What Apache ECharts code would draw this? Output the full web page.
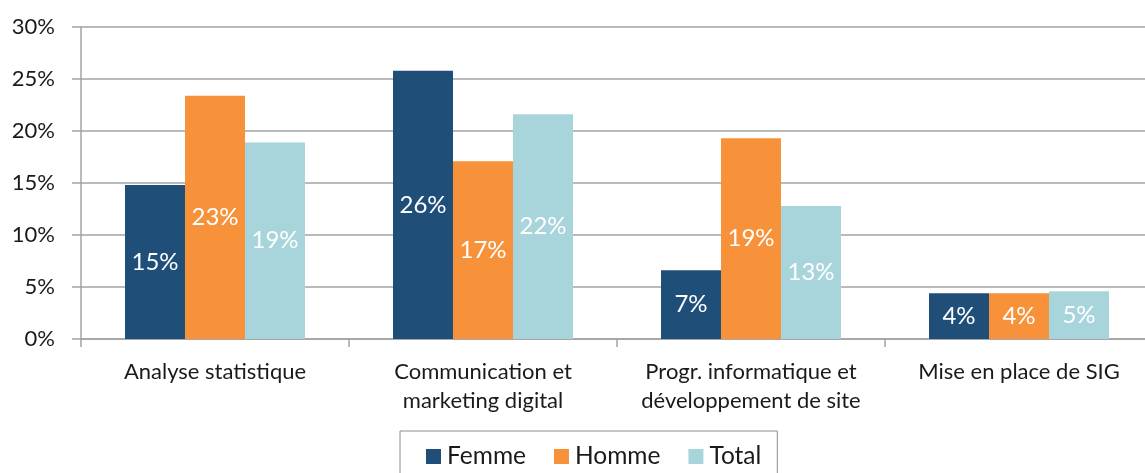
<!DOCTYPE html>
<html>
<head>
<meta charset="utf-8">
<script src="https://cdn.jsdelivr.net/npm/echarts@6/dist/echarts.min.js"></script>
<style>
  html, body { margin: 0; padding: 0; background: #fff; overflow: hidden; }
  /* plot runs slightly past the right edge of the window, like the source */
  #chart { width: 1153px; height: 473px; }
</style>
</head>
<body>
<div id="chart"></div>
<script>
// categories and values (percent)
var categories = [
    'Analyse statistique',
    'Communication et\nmarketing digital',
    'Progr. informatique et\ndéveloppement de site',
    'Mise en place de SIG'
];
var femme = [14.8, 25.8, 6.6, 4.4];
var homme = [23.4, 17.1, 19.3, 4.4];
var total = [18.9, 21.6, 12.8, 4.6];
var yTicks = [0, 5, 10, 15, 20, 25, 30];

var FONT = 'Lato';
var TXT = '#1a1a1a';
var LINE = '#a3a3a3';

function barLabel() {
    return {
        show: true,
        position: 'inside',
        color: '#fff',
        fontFamily: FONT,
        fontSize: 24,
        formatter: function (p) { return Math.round(p.value) + '%'; }
    };
}

function makeSeries(name, data, color) {
    return {
        name: name,
        type: 'bar',
        data: data,
        barWidth: 60,
        barGap: '0%',
        itemStyle: { color: color },
        label: barLabel(),
        emphasis: { disabled: true }
    };
}

var chart = echarts.init(document.getElementById('chart'), null, { renderer: 'canvas' });
chart.setOption({
    animation: false,
    grid: { left: 81, top: 27, right: 0, height: 312 },
    legend: {
        data: ['Femme', 'Homme', 'Total'],
        left: 400,
        top: 431,
        padding: [13, 16, 11, 26],
        itemWidth: 15,
        itemHeight: 15,
        itemGap: 28,
        borderColor: '#8c8c8c',
        borderWidth: 1,
        icon: 'rect',
        textStyle: { fontFamily: FONT, fontSize: 24.5, color: TXT, padding: [0, 0, 0, 1] }
    },
    xAxis: {
        type: 'category',
        data: categories,
        axisLine: { lineStyle: { color: LINE, width: 1.5 } },
        axisTick: { show: true, length: 8, lineStyle: { color: LINE, width: 1.5 } },
        axisLabel: {
            color: TXT,
            fontFamily: FONT,
            fontSize: 22,
            lineHeight: 29,
            margin: 18,
            interval: 0
        }
    },
    yAxis: {
        type: 'value',
        min: yTicks[0],
        max: yTicks[yTicks.length - 1],
        interval: 5,
        axisLine: { show: true, lineStyle: { color: LINE, width: 1.5 } },
        axisTick: { show: true, length: 9, lineStyle: { color: LINE, width: 1.5 } },
        splitLine: { lineStyle: { color: LINE, width: 1.5 } },
        axisLabel: {
            color: TXT,
            fontFamily: FONT,
            fontSize: 22,
            margin: 26,
            formatter: '{value}%'
        }
    },
    series: [
        makeSeries('Femme', femme, '#1f4e79'),
        makeSeries('Homme', homme, '#f7923a'),
        makeSeries('Total', total, '#a8d5db')
    ]
});
</script>
</body>
</html>
